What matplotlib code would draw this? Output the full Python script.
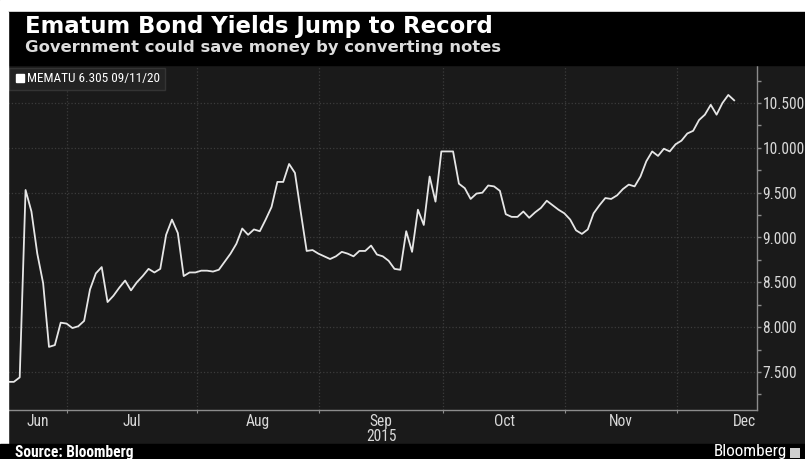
import matplotlib
matplotlib.use("Agg")
import matplotlib.pyplot as plt
from matplotlib import font_manager
from matplotlib.patches import Rectangle
from matplotlib.lines import Line2D

title = "Ematum Bond Yields Jump to Record"
subtitle = "Government could save money by converting notes"
series_label = "MEMATU 6.305 09/11/20"
source = "Source: Bloomberg"

# daily yield (%), mid-June to mid-December 2015, one value per trading day
yields = [
    7.39, 7.39, 7.44, 9.53, 9.29, 8.82, 8.49, 7.78, 7.80, 8.05,
    8.04, 7.99, 8.01, 8.07, 8.42, 8.60, 8.67, 8.28, 8.35, 8.44,
    8.52, 8.41, 8.50, 8.57, 8.65, 8.61, 8.65, 9.03, 9.20, 9.05,
    8.57, 8.61, 8.61, 8.63, 8.63, 8.62, 8.64, 8.73, 8.82, 8.93,
    9.10, 9.03, 9.09, 9.07, 9.20, 9.34, 9.62, 9.62, 9.82, 9.72,
    9.28, 8.85, 8.86, 8.82, 8.79, 8.76, 8.79, 8.84, 8.82, 8.79,
    8.85, 8.85, 8.91, 8.81, 8.79, 8.74, 8.65, 8.64, 9.07, 8.84,
    9.31, 9.14, 9.68, 9.40, 9.96, 9.96, 9.96, 9.60, 9.55, 9.43,
    9.49, 9.50, 9.58, 9.57, 9.52, 9.26, 9.23, 9.23, 9.29, 9.22,
    9.28, 9.33, 9.41, 9.36, 9.31, 9.27, 9.20, 9.08, 9.04, 9.09,
    9.27, 9.36, 9.44, 9.43, 9.47, 9.54, 9.59, 9.57, 9.68, 9.85,
    9.96, 9.91, 9.99, 9.96, 10.04, 10.08, 10.16, 10.19, 10.31, 10.37,
    10.48, 10.37, 10.50, 10.59, 10.53,
]
months = ["Jun", "Jul", "Aug", "Sep", "Oct", "Nov", "Dec"]
# trading-day position where each month starts (first = chart start, last = end of Dec)
month_edges = [0, 10.1, 32.3, 53.1, 74.3, 95.1, 114.2, 137.2]
y_ticks = [7.5, 8.0, 8.5, 9.0, 9.5, 10.0, 10.5]

W, H = 805, 459
BG = "#1a1a1a"

# pick a narrow face for the axis text if one is installed
installed = {f.name for f in font_manager.fontManager.ttflist}
narrow, nsize = "Liberation Sans", 9.4
for name in ["Liberation Sans Narrow", "DejaVu Sans Condensed", "Roboto Condensed"]:
    if name in installed:
        narrow, nsize = name, 11.2
        break

fig = plt.figure(figsize=(W / 100, H / 100), dpi=100, facecolor=BG)

# frame pieces: white margin top/left, black header and footer
fig.patches.append(Rectangle((0, 1 - 12 / H), 1, 12 / H, transform=fig.transFigure, color="white", zorder=0))
fig.patches.append(Rectangle((8 / W, 1 - 65 / H), 1, 53 / H, transform=fig.transFigure, color="black", zorder=0))
fig.patches.append(Rectangle((0, 15 / H), 8 / W, 1 - 27 / H, transform=fig.transFigure, color="white", zorder=0))
fig.patches.append(Rectangle((0, 0), 1, 15 / H, transform=fig.transFigure, color="black", zorder=0))

fig.text(25 / W, 1 - 27 / H, title, color="white", fontsize=16.4, fontweight="bold",
         family="DejaVu Sans", va="center", ha="left")
fig.text(25 / W, 1 - 47.5 / H, subtitle, color="#dcdcdc", fontsize=11.75, fontweight="bold",
         family="DejaVu Sans", va="center", ha="left")

ax = fig.add_axes([8 / W, 1 - 410 / H, (757 - 8) / W, (410 - 65) / H], facecolor=BG)
x = list(range(len(yields)))
ax.plot(x, yields, color="#e6e6e6", lw=1.3, solid_joinstyle="round")

ax.set_xlim(0, 127.9)
ax.set_ylim(7.076, 10.924)

for s in ["left", "top"]:
    ax.spines[s].set_visible(False)
for s in ["right", "bottom"]:
    ax.spines[s].set_color("#8c8c8c")
    ax.spines[s].set_linewidth(1.0)

ax.yaxis.tick_right()
ax.set_yticks(y_ticks)
ax.set_yticks([7.25] + [v + 0.25 for v in y_ticks], minor=True)
ax.set_yticklabels(["%.3f" % v for v in y_ticks], family=narrow, fontsize=nsize, color="#d8d8d8")
ax.tick_params(axis="y", which="both", colors="#8c8c8c", length=3, width=1, pad=1, labelcolor="#d8d8d8")

mids = [(month_edges[i] + month_edges[i + 1]) / 2 for i in range(len(months))]
ax.set_xticks(month_edges[1:-1])
ax.set_xticklabels([])
ax.set_xticks(mids, minor=True)
ax.set_xticklabels(months, minor=True, family=narrow, fontsize=nsize, color="#d8d8d8")
ax.tick_params(axis="x", which="major", colors="#8c8c8c", length=2)
ax.tick_params(axis="x", which="minor", length=0, pad=3, labelcolor="#d8d8d8")
ax.annotate("2015", xy=(mids[3], 0), xycoords=("data", "axes fraction"), xytext=(0, -19),
            textcoords="offset points", ha="center", va="center", family=narrow,
            fontsize=nsize, color="#d8d8d8", annotation_clip=False)

ax.grid(True, which="major", color="#3c3c3c", linestyle=":", linewidth=0.9)
ax.set_axisbelow(True)

handle = Line2D([], [], marker="s", linestyle="none", color="white", markersize=6)
leg = ax.legend([handle], [series_label], loc="upper left", bbox_to_anchor=(0.002, 0.992),
                frameon=True, fancybox=False, facecolor="#232323", edgecolor="#343434",
                framealpha=1, borderpad=0.35, handletextpad=0.1, handlelength=0.9,
                borderaxespad=0, prop={"family": narrow, "size": nsize * 0.85})
for t in leg.get_texts():
    t.set_color("white")

fig.text(15 / W, 1 - 452 / H, source, color="white", fontsize=nsize * 1.0, fontweight="bold",
         family=narrow, va="center", ha="left")
fig.text(787 / W, 1 - 451.5 / H, "Bloomberg", color="white", fontsize=nsize * 1.1, family=narrow,
         va="center", ha="right")
fig.patches.append(Rectangle((790 / W, 1 - 458 / H), 10 / W, 10 / H, transform=fig.transFigure,
                             facecolor="#cfcfcf", edgecolor="none", zorder=3))

fig.savefig("out.png", dpi=100, facecolor=fig.get_facecolor())
